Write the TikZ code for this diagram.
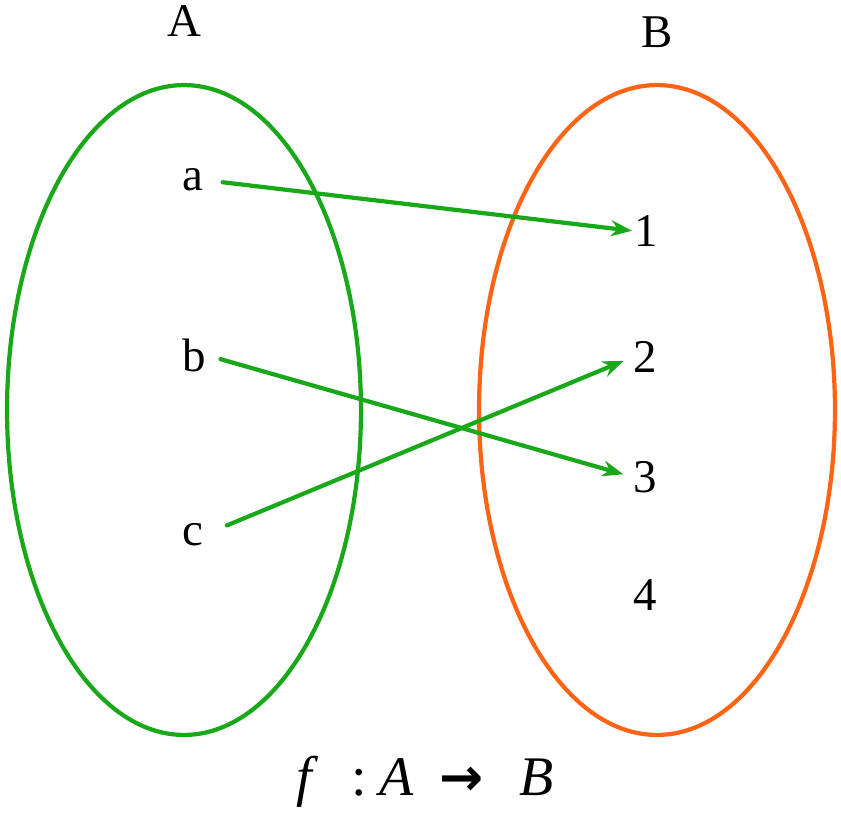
\documentclass[tikz,border=0pt]{standalone}
\usepackage{fontspec}
\setmainfont{Liberation Serif}
\newfontfamily\arrowfont{DejaVu Sans}
\usetikzlibrary{arrows.meta}
\definecolor{setgreen}{RGB}{24,168,24}
\definecolor{setorange}{RGB}{255,100,20}
\tikzset{
	elem/.style={inner sep=0pt,font=\fontsize{26.7}{30}\selectfont},
	maparrow/.style={setgreen,line width=2.4pt,-{Stealth[length=0.42cm,width=0.32cm]}},
}
\begin{document}
\begin{tikzpicture}[line join = round, line cap = round,x=0.02cm,y=-0.02cm]
	\useasboundingbox (0,0) rectangle (841,812);
	\draw[setgreen,line width=2.4pt] (184,410) circle [x radius=3.54cm, y radius=6.5cm];
	\draw[setorange,line width=2.4pt] (657,410) circle [x radius=3.56cm, y radius=6.5cm];
	\path (184,21) node[elem](setA){A};
	\path (657,32) node[elem](setB){B};
	\path (193,180) node[elem](a){a};
	\path (194,355) node[elem](b){b};
	\path (193,535) node[elem](c){c};
	\path (646,231) node[elem](n1){1};
	\path (645,357) node[elem](n2){2};
	\path (645,477) node[elem](n3){3};
	\path (645,595) node[elem](n4){4};
	\draw[maparrow,shorten <=0.38cm,shorten >=0.04cm] (a.east)--(n1.west);
	\draw[maparrow,shorten <=0.3cm,shorten >=0.2cm] (b.east)--(n3.west);
	\draw[maparrow,shorten <=0.5cm,shorten >=0.2cm] (c.east)--(n2.west);
	\path (425,795) node[anchor=base,inner sep=0pt,font=\fontsize{31.8}{36}\selectfont](map){\textit{f}\hspace{0.6em}:\hspace{0.22em}\textit{A}\hspace{0.45em}{\arrowfont\bfseries\fontsize{30}{34}\selectfont →}\hspace{0.65em}\textit{B}};
\end{tikzpicture}
\end{document}
